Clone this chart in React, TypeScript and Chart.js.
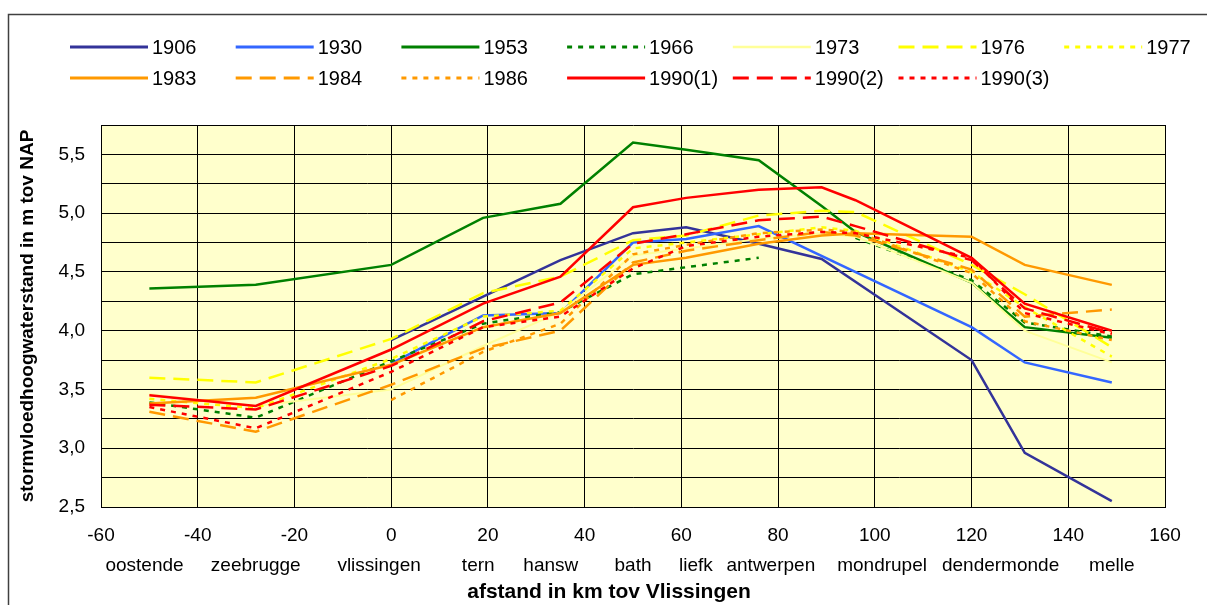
import React, { useEffect, useRef } from "react";
import { Chart, registerables } from "chart.js";

Chart.register(...registerables);

// ---- data ----
const stationKm = [-50, -28, 0, 19, 35, 50, 61, 76, 89, 96, 120, 131, 149];
const stationNames = ["oostende", "zeebrugge", "vlissingen", "tern", "hansw", "bath", "liefk", "antwerpen", "mondrupel", "dendermonde", "melle"];
const stationLabelKm = [-51, -28, -2.5, 18, 33, 50, 63, 78.5, 101.5, 126, 149];

const s1906 = [null, null, 3.92, 4.29, 4.6, 4.83, 4.88, 4.74, 4.61, null, 3.75, 2.96, 2.55];
const s1930 = [null, null, 3.72, 4.13, 4.15, 4.75, 4.78, 4.89, null, null, 4.03, 3.73, 3.56];
const s1953 = [4.36, 4.39, 4.56, 4.96, 5.08, 5.6, 5.54, 5.45, 5.06, 4.84, 4.41, 4.03, 3.94];
const s1966 = [3.39, 3.26, 3.74, 4.06, 4.16, 4.48, 4.54, 4.62, null, 4.79, 4.43, 4.07, 3.95];
const s1973 = [3.46, 3.36, 3.5, 3.87, 4.16, 4.64, 4.7, 4.78, 4.83, 4.8, 4.41, 4.0, 3.73];
const s1976 = [3.6, 3.56, 3.93, 4.32, 4.46, 4.77, 4.81, 4.98, 5.02, 5.01, 4.56, 4.31, 3.86];
const s1977 = [3.42, 3.34, 3.76, 4.12, 4.17, 4.7, 4.75, 4.82, 4.88, 4.85, 4.5, 4.2, 3.78];
const s1983 = [3.38, 3.43, 3.71, 4.03, 4.15, 4.56, 4.62, 4.74, 4.81, 4.83, 4.8, 4.56, 4.39];
const s1984 = [3.31, 3.14, 3.54, 3.85, 4.0, 4.58, 4.68, 4.77, 4.84, 4.81, 4.52, 4.12, 4.18];
const s1986 = [null, null, 3.41, 3.82, 4.06, 4.65, 4.73, 4.83, 4.86, 4.84, 4.49, 4.08, 3.92];
const s1990a = [3.45, 3.36, 3.84, 4.23, 4.46, 5.05, 5.13, 5.2, 5.22, 5.11, 4.62, 4.23, 4.0];
const s1990b = [3.37, 3.33, 3.7, 4.08, 4.24, 4.74, 4.82, 4.94, 4.97, 4.89, 4.6, 4.19, 3.98];
const s1990c = [3.35, 3.17, 3.65, 4.03, 4.12, 4.53, 4.72, 4.8, 4.84, 4.83, 4.62, 4.15, 3.97];

const yTitle = "stormvloedhoogwaterstand in m tov NAP";
const xTitle = "afstand in km tov Vlissingen";

const FONT = "'Liberation Sans', Arial, sans-serif";
const DASH = [16, 8];
const DOT = [5, 6];

type S = { label: string; values: (number | null)[]; color: string; dash: number[]; width: number; span: boolean };
const series: S[] = [
  { label: "1906", values: s1906, color: "#333399", dash: [], width: 2.5, span: true },
  { label: "1930", values: s1930, color: "#3366FF", dash: [], width: 2.5, span: true },
  { label: "1953", values: s1953, color: "#008000", dash: [], width: 2.5, span: true },
  { label: "1966", values: s1966, color: "#008000", dash: DOT, width: 2.5, span: false },
  { label: "1973", values: s1973, color: "#FFFF99", dash: [], width: 2, span: true },
  { label: "1976", values: s1976, color: "#FFFF00", dash: DASH, width: 2.5, span: true },
  { label: "1977", values: s1977, color: "#FFFF00", dash: DOT, width: 2.5, span: true },
  { label: "1983", values: s1983, color: "#FF9900", dash: [], width: 2.5, span: true },
  { label: "1984", values: s1984, color: "#FF9900", dash: DASH, width: 2.5, span: true },
  { label: "1986", values: s1986, color: "#FF9900", dash: DOT, width: 2.5, span: true },
  { label: "1990(1)", values: s1990a, color: "#FF0000", dash: [], width: 2.5, span: true },
  { label: "1990(2)", values: s1990b, color: "#FF0000", dash: DASH, width: 2.5, span: true },
  { label: "1990(3)", values: s1990c, color: "#FF0000", dash: DOT, width: 2.5, span: true },
];

const decorPlugin = {
  id: "decor",
  beforeDraw(chart: any) {
    const { ctx, chartArea: a } = chart;
    ctx.save();
    ctx.fillStyle = "#ffffff";
    ctx.fillRect(0, 0, chart.width, chart.height);
    ctx.fillStyle = "#FFFFCC";
    ctx.fillRect(a.left, a.top, a.right - a.left, a.bottom - a.top);
    ctx.strokeStyle = "#404040";
    ctx.lineWidth = 1.5;
    ctx.beginPath();
    ctx.moveTo(8.5, chart.height);
    ctx.lineTo(8.5, 14.5);
    ctx.lineTo(chart.width, 14.5);
    ctx.stroke();
    ctx.restore();
  },
  afterDraw(chart: any) {
    const { ctx } = chart;
    ctx.save();
    chart.data.datasets.forEach((ds: any, i: number) => {
      const col = i % 7;
      const row = Math.floor(i / 7);
      const x0 = 70 + col * 165.7;
      const y = row === 0 ? 47 : 78;
      ctx.strokeStyle = ds.borderColor;
      ctx.lineWidth = ds.borderWidth + 0.5;
      ctx.setLineDash(ds.borderDash || []);
      ctx.beginPath();
      ctx.moveTo(x0, y);
      ctx.lineTo(x0 + 78, y);
      ctx.stroke();
      ctx.setLineDash([]);
      ctx.fillStyle = "#000";
      ctx.font = `20px ${FONT}`;
      ctx.textAlign = "left";
      ctx.textBaseline = "middle";
      ctx.fillText(ds.label, x0 + 82, y + 1);
    });
    ctx.font = `bold 21px ${FONT}`;
    ctx.textAlign = "center";
    ctx.textBaseline = "middle";
    ctx.fillStyle = "#000";
    ctx.fillText(xTitle, 609, 592);
    ctx.restore();
  },
};

export default function App() {
  const ref = useRef<HTMLCanvasElement | null>(null);
  useEffect(() => {
    if (!ref.current) return;
    const tickFont = { family: FONT, size: 19 };
    const chart = new Chart(ref.current, {
      type: "line",
      data: {
        datasets: series.map((s, i) => ({
          label: s.label,
          data: stationKm.map((x, j) => ({ x, y: s.values[j] as any })),
          borderColor: s.color,
          backgroundColor: s.color,
          borderDash: s.dash,
          borderWidth: s.width,
          pointRadius: 0,
          tension: 0,
          spanGaps: s.span,
          fill: false,
          order: series.length - i,
        })),
      },
      options: {
        responsive: false,
        animation: false,
        devicePixelRatio: 1,
        layout: { padding: { left: 0, right: 42, top: 125, bottom: 0 } },
        plugins: { legend: { display: false }, tooltip: { enabled: false }, title: { display: false } },
        scales: {
          x: {
            type: "linear",
            position: "bottom",
            min: -60,
            max: 160,
            ticks: { stepSize: 20, font: tickFont, color: "#000", padding: 17, maxRotation: 0, autoSkip: false },
            grid: { color: "#000", lineWidth: 1, drawTicks: false },
            border: { color: "#000", width: 1 },
            afterFit: (s: any) => { s.height = 38; },
          },
          x2: {
            type: "linear",
            position: "bottom",
            min: -60,
            max: 160,
            afterBuildTicks: (s: any) => { s.ticks = stationLabelKm.map((v) => ({ value: v })); },
            ticks: {
              callback: (_v: any, i: number) => stationNames[i],
              font: tickFont,
              color: "#000",
              padding: 9,
              maxRotation: 0,
              autoSkip: false,
            },
            grid: { display: false, drawTicks: false },
            border: { display: false },
            afterFit: (s: any) => { s.height = 60; },
          },
          y: {
            type: "linear",
            min: 2.5,
            max: 5.75,
            ticks: {
              stepSize: 0.25,
              font: tickFont,
              color: "#000",
              padding: 16,
              callback: (v: any) => {
                const n = Number(v);
                return Math.abs(n * 2 - Math.round(n * 2)) < 1e-6 ? n.toFixed(1).replace(".", ",") : "";
              },
            },
            grid: { color: "#000", lineWidth: 1, drawTicks: false },
            border: { color: "#000", width: 1 },
            title: { display: true, text: yTitle, color: "#000", font: { family: FONT, size: 19, weight: "bold" }, padding: { top: 16, bottom: 0 } },
            afterFit: (s: any) => { s.width = 101; },
          },
        },
      } as any,
      plugins: [decorPlugin],
    });
    return () => chart.destroy();
  }, []);
  return (
    <div style={{ position: "absolute", left: 0, top: 0, width: 1207, height: 605, background: "#fff" }}>
      <canvas ref={ref} width={1207} height={605} style={{ display: "block" }} />
    </div>
  );
}
